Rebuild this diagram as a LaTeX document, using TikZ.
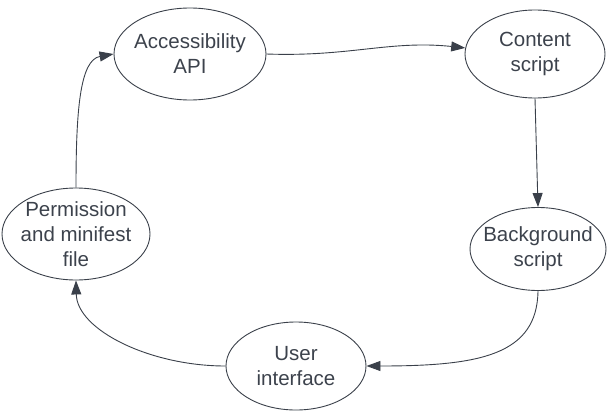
\documentclass[tikz,border=0pt]{standalone}
\usepackage{fontspec}
\setmainfont{Liberation Sans}
\usetikzlibrary{shapes.geometric,arrows.meta}
\definecolor{ink}{RGB}{58,64,74}
\definecolor{txt}{RGB}{60,66,76}
\tikzset{
  oval/.style={ellipse, draw=ink, line width=0.9pt, inner sep=0pt},
  label text/.style={align=center, inner sep=0pt, text=txt, font=\fontsize{20.5}{25}\selectfont},
  link/.style={draw=ink, line width=0.9pt, -{Triangle[length=14pt,width=10pt]}}
}
\begin{document}
\begin{tikzpicture}[x=1pt,y=-1pt]
\useasboundingbox (0,0) rectangle (607,412);
\node[oval, minimum width=152pt, minimum height=92pt] (acc) at (190,54) {};
\node[label text] (acct) at (acc.center) {Accessibility\\API};
\node[oval, minimum width=140pt, minimum height=88pt] (cs) at (535,54) {};
\node[label text] (cst) at (cs.center) {Content\\script};
\node[oval, minimum width=136pt, minimum height=83pt] (bg) at (538,249) {};
\node[label text] (bgt) at (bg.center) {Background\\script};
\node[oval, minimum width=140pt, minimum height=88pt] (ui) at (296,366) {};
\node[label text] (uit) at (ui.center) {User\\interface};
\node[oval, minimum width=148pt, minimum height=92pt] (pm) at (76,234) {};
\node[label text] (pmt) at (pm.center) {Permission\\and minifest\\file};
\draw[link] (acc.east) .. controls (350,57) and (390,40) .. (cs.175);
\draw[link] (cs.south) -- (bg.north);
\draw[link] (bg.south) .. controls (537,355) and (480,366) .. (ui.east);
\draw[link] (ui.west) .. controls (150,366) and (77,330) .. (pm.south);
\draw[link] (pm.north) .. controls (76,110) and (80,60) .. (acc.west);
\end{tikzpicture}
\end{document}
